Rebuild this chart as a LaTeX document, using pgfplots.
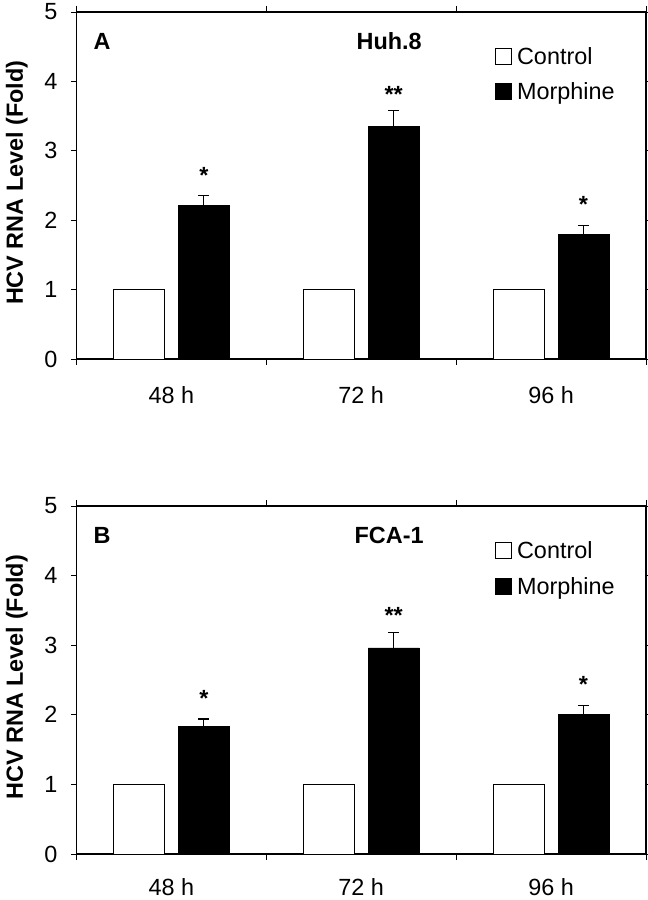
\documentclass[border=0pt]{standalone}
\usepackage{pgfplots}
\pgfplotsset{compat=1.18}
\usepackage{fontspec}
\setmainfont{Liberation Sans}
\newcommand{\fs}{\fontsize{23.5}{28}\selectfont}
\tikzset{starlbl/.style={font=\bfseries\fs, anchor=base, yshift=-13.5bp}}
\begin{document}
\begin{tikzpicture}
\path[use as bounding box] (0,0) rectangle (648bp,900bp);
\pgfplotsset{
 panel/.style={
  scale only axis, width=569.5bp, anchor=south west,
  xmin=0, xmax=3, ymin=0, ymax=5,
  ytick={0,1,2,3,4,5},
  xtick={0.5,1.5,2.5}, xticklabels={48 h,72 h,96 h},
  minor xtick={0,1,2,3},
  major x tick style={draw=none},
  tick align=outside, major tick length=5bp, minor tick length=6bp,
  tick style={black, line width=0.8bp},
  axis line style={line width=1.2bp},
  ticklabel style={font=\fs},
  yticklabel style={inner sep=0pt, xshift=-14bp},
  xticklabel style={inner sep=0pt, yshift=-22bp},
  /pgf/number format/assume math mode=true,
  ylabel={HCV RNA Level (Fold)},
  every axis y label/.style={at={(axis description cs:-0.105,0.508)}, rotate=90, anchor=center, font=\bfseries\fs},
  ybar, bar width=51bp,
  legend style={draw=none, fill=none, anchor=north west, font=\fs, inner sep=0pt, nodes={inner sep=2bp}},
  legend cell align=left,
  clip=false,
 },
 ctrl/.style={fill=white, draw=black, line width=0.8bp, bar shift=-32.5bp,
   legend image code/.code={\draw[fill=white, draw=black, line width=0.8bp] (0bp,-8bp) rectangle (16bp,8bp); \path (19bp,0bp);}},
 morph/.style={fill=black, draw=black, line width=0.8bp, bar shift=32.5bp,
   legend image code/.code={\draw[fill=black, draw=black, line width=0.8bp] (0bp,-8bp) rectangle (16bp,8bp); \path (19bp,0bp);},
   error bars/.cd, y dir=plus, y explicit,
   error bar style={line width=1.1bp, black},
   error mark options={rotate=90, mark size=5.5bp, line width=1.1bp, black}},
}
% Panel A
\begin{axis}[panel, at={(76.5bp,541bp)}, height=347bp,
  legend style={at={(axis description cs:0.735,0.905)}, row sep=12.5bp}]
\addplot[ctrl] coordinates {(0.5,1) (1.5,1) (2.5,1)};
\addplot[morph] coordinates {(0.5,2.21) +- (0,0.15) (1.5,3.35) +- (0,0.23) (2.5,1.79) +- (0,0.14)};
\legend{Control, Morphine}
\node[font=\bfseries\fs] at (rel axis cs:0.045,0.915) {A};
\node[font=\bfseries\fs] at (rel axis cs:0.549,0.915) {Huh.8};
\node[starlbl] at (axis cs:0.671,2.72) {*};
\node[starlbl] at (axis cs:1.671,3.89) {**};
\node[starlbl] at (axis cs:2.671,2.30) {*};
\end{axis}
% Panel B
\begin{axis}[panel, at={(76.5bp,46bp)}, height=348bp,
  xticklabel style={yshift=3bp},
  legend style={at={(axis description cs:0.735,0.905)}, row sep=13.5bp}]
\addplot[ctrl] coordinates {(0.5,1) (1.5,1) (2.5,1)};
\addplot[morph] coordinates {(0.5,1.83) +- (0,0.11) (1.5,2.96) +- (0,0.22) (2.5,2.00) +- (0,0.14)};
\legend{Control, Morphine}
\node[font=\bfseries\fs] at (rel axis cs:0.045,0.915) {B};
\node[font=\bfseries\fs] at (rel axis cs:0.549,0.915) {FCA-1};
\node[starlbl] at (axis cs:0.671,2.31) {*};
\node[starlbl] at (axis cs:1.671,3.50) {**};
\node[starlbl] at (axis cs:2.671,2.52) {*};
\end{axis}
\end{tikzpicture}
\end{document}
